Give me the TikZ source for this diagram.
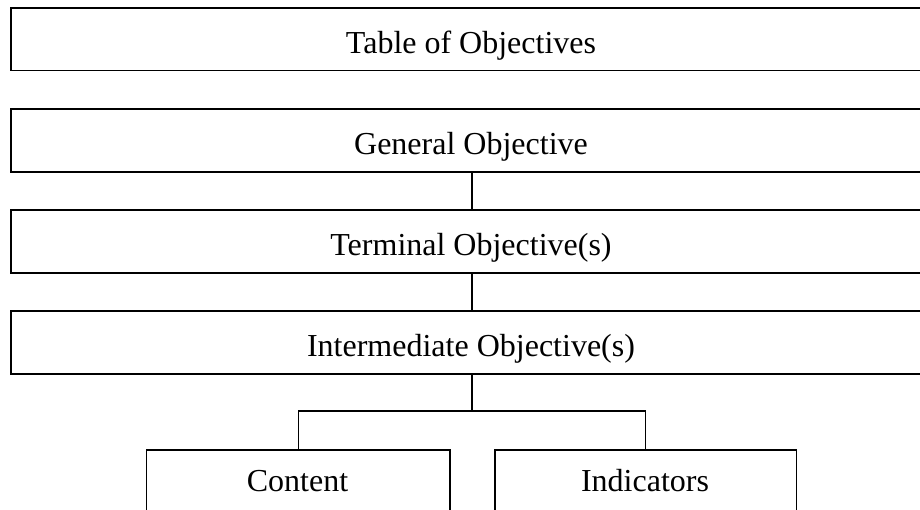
\documentclass[tikz,border=0pt]{standalone}
\usepackage{fontspec}
\setmainfont{Liberation Serif}
\begin{document}
\begin{tikzpicture}[x=1pt,y=-1pt,
  bigbox/.style={draw=black, line width=1.8pt, minimum width=922pt, minimum height=62.6pt, inner sep=0pt, anchor=north west},
  smallbox/.style={draw=black, line width=1.3pt, minimum width=303.4pt, minimum height=120pt, inner sep=0pt, anchor=north west},
  lbl/.style={anchor=base, inner sep=0pt, font=\fontsize{32}{38}\selectfont},
  bigline/.style={line width=1.8pt},
  smallline/.style={line width=1.3pt}]
\clip (0,0) rectangle (920,509);
\useasboundingbox (0,0) rectangle (920,509);
\node[bigbox] (toc) at (10.2,7) {};
\node[bigbox] (gen) at (10.2,108.2) {};
\node[bigbox] (term) at (10.2,209.2) {};
\node[bigbox] (inter) at (10.2,310.2) {};
\node[smallbox] (cont) at (145.8,449.2) {};
\node[smallbox, minimum width=301.6pt] (ind) at (494.2,449.2) {};
\node[lbl] (toct) at (471,53) {Table of Objectives};
\node[lbl] (gent) at (471,154.2) {General Objective};
\node[lbl] (termt) at (471,255.2) {Terminal Objective(s)};
\node[lbl] (intert) at (471,356.2) {Intermediate Objective(s)};
\node[lbl] (contt) at (297.5,491) {Content};
\node[lbl] (indt) at (645,491) {Indicators};
\coordinate (hlevel) at (0,411);
\coordinate (split) at (inter.south |- hlevel);
\draw[bigline] (gen.south) -- (term.north);
\draw[bigline] (term.south) -- (inter.north);
\draw[smallline] (inter.south) -- (split);
\draw[smallline] (cont.north) |- (split) -| (ind.north);
\end{tikzpicture}
\end{document}
